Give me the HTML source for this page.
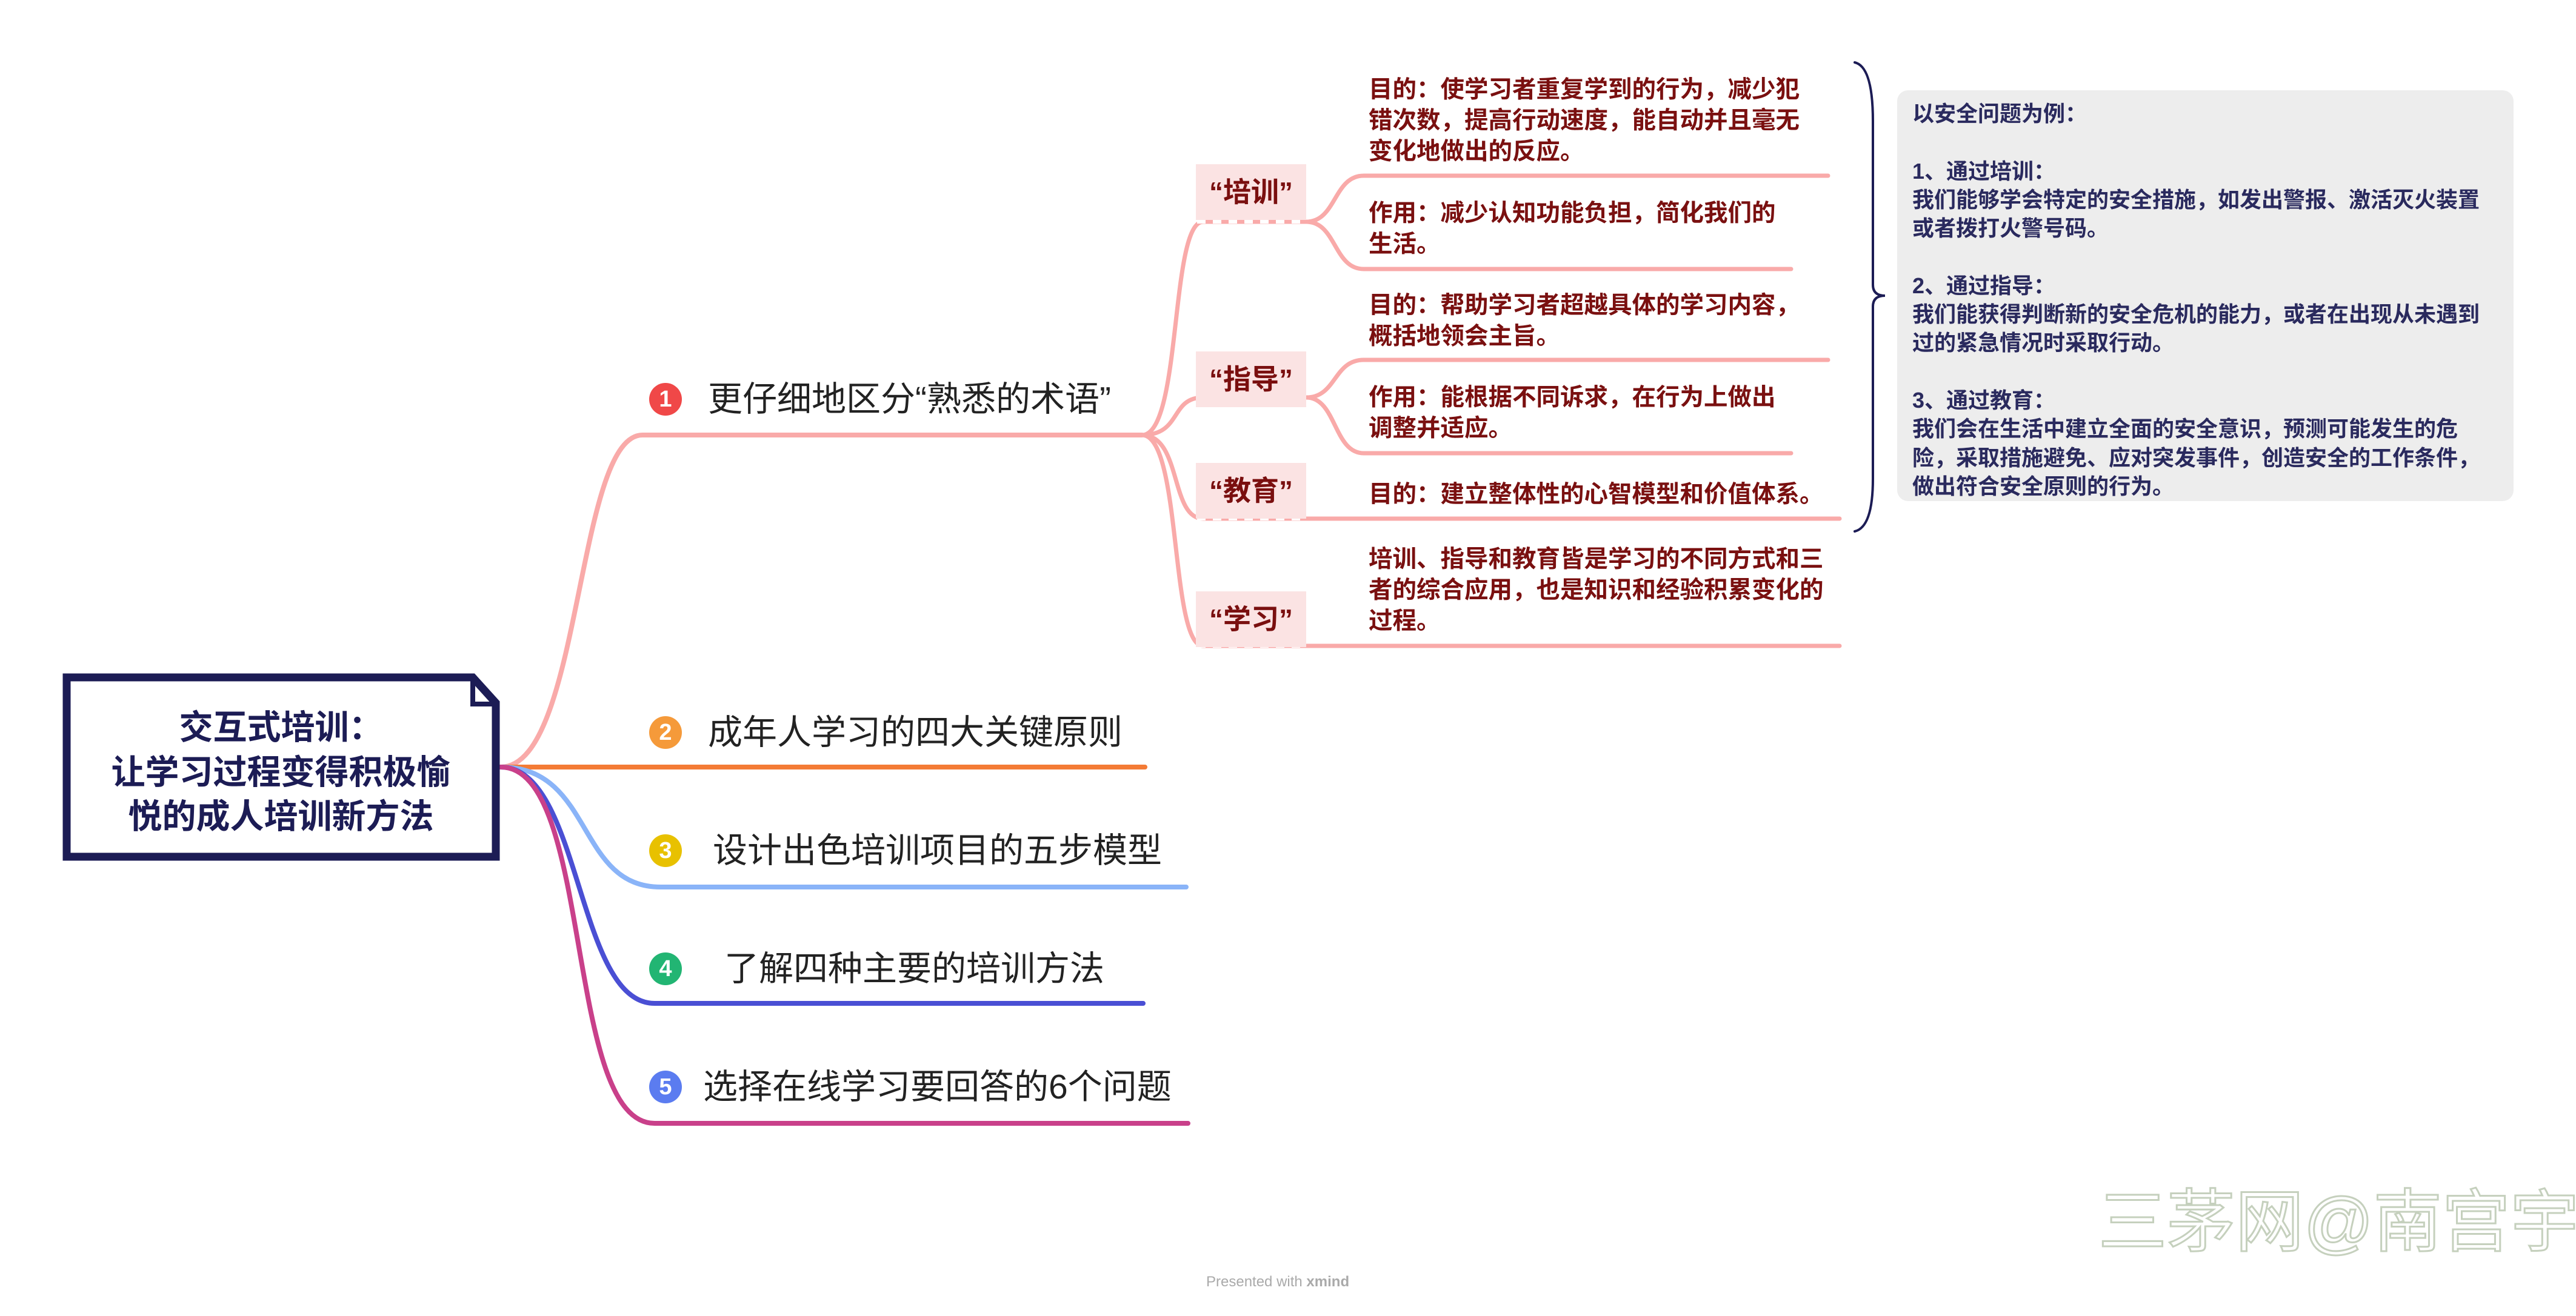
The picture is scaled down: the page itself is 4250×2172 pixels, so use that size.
<!DOCTYPE html>
<html><head><meta charset="utf-8">
<style>
*{margin:0;padding:0;box-sizing:border-box}
body{width:4250px;height:2172px;background:#fff;position:relative;overflow:hidden;font-family:"Liberation Sans","Noto Sans CJK SC",sans-serif}
.a{position:absolute;white-space:nowrap}
.rt{left:103px;width:721px;text-align:center;font-weight:bold;font-size:56px;color:#1c1c55;line-height:73px}
.br{font-size:57px;color:#222;line-height:70px}
.num{width:54px;height:54px;border-radius:50%;color:#fff;font-weight:bold;font-size:38px;text-align:center;line-height:54px}
.lab{font-size:46px;font-weight:bold;color:#7a0f0f;background:#fbe3e3;width:182px;height:92px;line-height:92px;text-align:center}
.st{font-size:39.5px;font-weight:bold;color:#7a1010;line-height:51px;white-space:nowrap}
.box{left:3130px;top:149px;width:1017px;height:678px;background:#ededed;border-radius:18px}
.bt{font-size:36px;font-weight:bold;color:#2a2a5e;line-height:47.3px}
</style></head><body>
<svg class="a" style="left:0;top:0" width="4250" height="2172">
<g fill="none" stroke-linecap="round">
<path d="M826 1266 C 960 1266 950 718 1060 718 L1884 718" stroke="#f9aaa9" stroke-width="8"/>
<path d="M826 1266 L1889 1266" stroke="#f47b35" stroke-width="8"/>
<path d="M826 1266 C 980 1266 950 1464 1090 1464 L1957 1464" stroke="#8ab4f8" stroke-width="8"/>
<path d="M826 1266 C 960 1266 950 1656 1080 1656 L1886 1656" stroke="#4a4fd4" stroke-width="8"/>
<path d="M826 1266 C 980 1266 930 1854 1080 1854 L1960 1854" stroke="#c9408a" stroke-width="8"/>
<g stroke="#f9aaa9" stroke-width="7">
<path d="M1884 718 C 1950 718 1930 366 1985 366 L2155 366"/>
<path d="M1884 718 C 1950 718 1930 656 1985 656 L2155 656"/>
<path d="M1884 718 C 1950 718 1930 856 1985 856 L3035 856"/>
<path d="M1884 718 C 1950 718 1930 1066 1985 1066 L3035 1066"/>
<path d="M2155 366 C 2205 366 2200 290 2250 290 L3016 290"/>
<path d="M2155 366 C 2205 366 2200 444 2250 444 L2955 444"/>
<path d="M2155 656 C 2205 656 2200 594 2250 594 L3016 594"/>
<path d="M2155 656 C 2205 656 2200 748 2250 748 L2955 748"/>
</g>
<path d="M3060 103 Q3090 110 3090 200 L3090 470 Q3090 488 3110 488 Q3090 488 3090 506 L3090 790 Q3090 870 3060 877" stroke="#1c1c55" stroke-width="4"/>
</g>
<g stroke="#fff" stroke-width="6" stroke-dasharray="14 12">
<line x1="1975" y1="366" x2="2155" y2="366"/>
<line x1="1975" y1="656" x2="2155" y2="656"/>
<line x1="1975" y1="856" x2="2155" y2="856"/>
<line x1="1975" y1="1066" x2="2155" y2="1066"/>
</g>
<path d="M110 1118 L780 1118 L818 1160 L818 1414 L110 1414 Z" fill="#fff" stroke="#1c1c55" stroke-width="13" stroke-linejoin="miter"/>
<path d="M780 1118 L780 1162 L818 1162" fill="none" stroke="#1c1c55" stroke-width="8"/>
</svg>

<div class="a rt" style="top:1164px">交互式培训：</div>
<div class="a rt" style="top:1238px">让学习过程变得积极愉</div>
<div class="a rt" style="top:1311px">悦的成人培训新方法</div>

<div class="a num" style="left:1071px;top:632px;background:#f04848">1</div>
<div class="a br" style="left:1168px;top:624px">更仔细地区分“熟悉的术语”</div>
<div class="a num" style="left:1071px;top:1182px;background:#f59a3a">2</div>
<div class="a br" style="left:1168px;top:1174px">成年人学习的四大关键原则</div>
<div class="a num" style="left:1071px;top:1377px;background:#e8c100">3</div>
<div class="a br" style="left:1176px;top:1369px">设计出色培训项目的五步模型</div>
<div class="a num" style="left:1071px;top:1572px;background:#22b573">4</div>
<div class="a br" style="left:1195px;top:1564px">了解四种主要的培训方法</div>
<div class="a num" style="left:1071px;top:1767px;background:#5b7cf0">5</div>
<div class="a br" style="left:1160px;top:1759px">选择在线学习要回答的6个问题</div>

<div class="a lab" style="left:1973px;top:271px">“培训”</div>
<div class="a lab" style="left:1973px;top:580px">“指导”</div>
<div class="a lab" style="left:1973px;top:764px">“教育”</div>
<div class="a lab" style="left:1973px;top:976px">“学习”</div>

<div class="a st" style="left:2258px;top:123px">目的：使学习者重复学到的行为，减少犯<br>错次数，提高行动速度，能自动并且毫无<br>变化地做出的反应。</div>
<div class="a st" style="left:2258px;top:327px">作用：减少认知功能负担，简化我们的<br>生活。</div>
<div class="a st" style="left:2258px;top:479px">目的：帮助学习者超越具体的学习内容，<br>概括地领会主旨。</div>
<div class="a st" style="left:2258px;top:631px">作用：能根据不同诉求，在行为上做出<br>调整并适应。</div>
<div class="a st" style="left:2258px;top:791px">目的：建立整体性的心智模型和价值体系。</div>
<div class="a st" style="left:2258px;top:898px">培训、指导和教育皆是学习的不同方式和三<br>者的综合应用，也是知识和经验积累变化的<br>过程。</div>

<div class="a box"></div>
<div class="a bt" style="left:3155px;top:164px">以安全问题为例：<br><br>1、通过培训：<br>我们能够学会特定的安全措施，如发出警报、激活灭火装置<br>或者拨打火警号码。<br><br>2、通过指导：<br>我们能获得判断新的安全危机的能力，或者在出现从未遇到<br>过的紧急情况时采取行动。<br><br>3、通过教育：<br>我们会在生活中建立全面的安全意识，预测可能发生的危<br>险，采取措施避免、应对突发事件，创造安全的工作条件，<br>做出符合安全原则的行为。</div>

<div class="a" style="left:1990px;top:2102px;font-size:24px;color:#aaa">Presented with <b>xmind</b></div>
<div class="a" style="left:3462px;top:1950px;font-size:113px;color:#fff;-webkit-text-stroke:3px #c5d0bd;line-height:135px">三茅网@南宫宇</div>
</body></html>
